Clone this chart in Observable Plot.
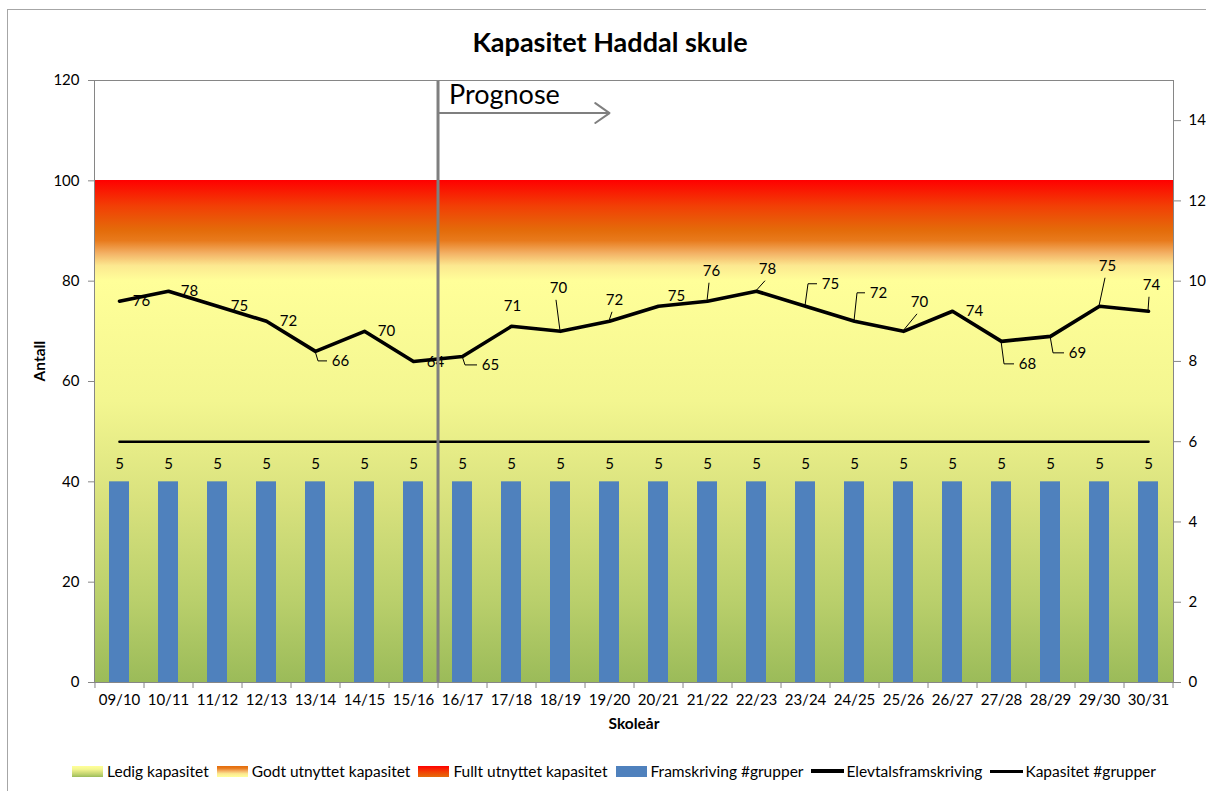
<!DOCTYPE html>
<html>
<head>
<meta charset="utf-8">
<script src="https://cdn.jsdelivr.net/npm/d3@7"></script>
<script src="https://cdn.jsdelivr.net/npm/@observablehq/plot@0.6"></script>
<style>
  html, body { margin: 0; padding: 0; background: #fff; }
  body { width: 1206px; height: 791px; position: relative; overflow: hidden; font-family: Lato, "Open Sans", sans-serif; }
  #border { position: absolute; left: 7px; top: 9px; width: 1300px; height: 900px; border-top: 1px solid #a6a6a6; border-left: 1px solid #a6a6a6; }
  #title { position: absolute; left: 0; top: 23px; width: 1220px; text-align: center; font-size: 27px; font-weight: bold; line-height: 38px; color: #000; }
  #chart { position: absolute; left: 0; top: 60px; }
  #legend { position: absolute; left: 0; top: 762px; width: 1228px; display: flex; justify-content: center; align-items: center; font-size: 15.5px; color: #000; }
  .item { display: flex; align-items: center; margin: 0 4px; }
  .sw { width: 31px; height: 11px; margin-right: 4px; }
  .ln { width: 33px; background: #000; margin-right: 2px; }
</style>
</head>
<body>
<div id="border"></div>
<div id="title">Kapasitet Haddal skule</div>
<div id="chart"></div>
<div id="legend"></div>
<script>
// ---------- data ----------
const years = ["09/10","10/11","11/12","12/13","13/14","14/15","15/16","16/17","17/18","18/19","19/20","20/21","21/22","22/23","23/24","24/25","25/26","26/27","27/28","28/29","29/30","30/31"];
const elevtal = [76,78,75,72,66,70,64,65,71,70,72,75,76,78,75,72,70,74,68,69,75,74];
const grupper = [5,5,5,5,5,5,5,5,5,5,5,5,5,5,5,5,5,5,5,5,5,5];
const kapasitetGrupper = [6,6,6,6,6,6,6,6,6,6,6,6,6,6,6,6,6,6,6,6,6,6];
const zoneNames = ["Ledig kapasitet","Godt utnyttet kapasitet","Fullt utnyttet kapasitet"];
const zoneLow = [0, 80, 90];
const zoneHigh = [80, 90, 100];
const leftTicks = [0,20,40,60,80,100,120];
const rightTicks = [0,2,4,6,8,10,12,14];
const leftMax = 120, rightMax = 15;
const lastActual = "15/16";
const arrowEnd = "19/20";
const prognoseLevel = 113.5;
const prognoseText = "Prognose";

// ---------- style / layout ----------
const zoneIds = ["gLedig","gGodt","gFullt"];
const zoneStops = [
  [[0,"#FFFF99"],[0.3,"#F3F690"],[0.55,"#D8E17D"],[0.8,"#B9CF6B"],[1,"#9BBB59"]],
  [[0,"#E46C0A"],[0.2,"#E87A1C"],[0.45,"#F3B064"],[0.7,"#FCE890"],[1,"#FFFF99"]],
  [[0,"#FF0000"],[0.5,"#F23E05"],[1,"#E46C0A"]]
];
// per-label nudges in px: [dx, dy, leader]
const labelLayout = [
  [22,0,null],[21,0,null],[22,0,null],[22,0,null],[25,10,"side"],[22,0,null],[22,1,null],
  [28,9,"side"],[1,-20,null],[-2,-43,"under"],[5,-21,"under"],[18,-10,null],[4,-30,"under"],
  [11,-22,"under"],[25,-22,"side"],[24,-28,"side"],[16,-29,"under"],[22,0,null],[26,23,"side"],
  [27,17,"side"],[8,-40,"under"],[3,-26,"under"]
];

const W = 1206, H = 682, mL = 94, mR = 33, mT = 20, mB = 60;
const step = (W - mL - mR) / years.length;
const ratio = leftMax / rightMax;
const axisGray = "#868686";

const rows = years.map((year, i) => ({
  year, elev: elevtal[i], grp: grupper[i] * ratio, grpLabel: String(grupper[i]), kap: kapasitetGrupper[i] * ratio
}));
const zones = zoneNames.map((name, k) => ({name, low: zoneLow[k], high: zoneHigh[k], id: zoneIds[k]}));

function gradientDefs() {
  const ns = "http://www.w3.org/2000/svg";
  const defs = document.createElementNS(ns, "defs");
  zoneIds.forEach((id, k) => {
    const g = document.createElementNS(ns, "linearGradient");
    g.setAttribute("id", id);
    g.setAttribute("x1", "0"); g.setAttribute("y1", "0");
    g.setAttribute("x2", "0"); g.setAttribute("y2", "1");
    zoneStops[k].forEach(([o, c]) => {
      const s = document.createElementNS(ns, "stop");
      s.setAttribute("offset", o);
      s.setAttribute("stop-color", c);
      g.appendChild(s);
    });
    defs.appendChild(g);
  });
  return defs;
}

function leaders(index, scales) {
  const g = d3.create("svg:g").attr("fill", "none").attr("stroke", "#000").attr("stroke-width", 1);
  const bw = scales.x.bandwidth ? scales.x.bandwidth() : 0;
  rows.forEach((r, i) => {
    const [dx, dy, kind] = labelLayout[i];
    if (!kind) return;
    const px = scales.x(r.year) + bw / 2, py = scales.y(r.elev);
    const lx = px + dx, ly = py + dy;
    let pts;
    if (kind === "side") pts = [[px, py], [px + 3, ly], [lx - 13, ly]];
    else pts = [[px, py], [lx - 2, ly + 12]];
    g.append("path").attr("d", d3.line()(pts));
  });
  return g.node();
}

const chart = Plot.plot({
  width: W, height: H,
  marginLeft: mL, marginRight: mR, marginTop: mT, marginBottom: mB,
  style: {fontFamily: "Lato, 'Open Sans', sans-serif", fontSize: "15px", background: "transparent", color: "#000", overflow: "visible"},
  x: {type: "band", domain: years, paddingInner: 0.59, paddingOuter: 0.295, label: null},
  y: {domain: [0, leftMax], label: null},
  marks: [
    gradientDefs,
    ...zones.map(z => Plot.rect([z], {y1: "low", y2: "high", fill: `url(#${z.id})`, shapeRendering: "crispEdges"})),
    Plot.barY(rows, {x: "year", y: "grp", fill: "#4F81BD"}),
    Plot.text(rows, {x: "year", y: "grp", text: "grpLabel", dy: -18, fontSize: 15, fill: "#000"}),
    Plot.lineY(rows, {x: "year", y: "kap", stroke: "#000", strokeWidth: 2.6}),
    Plot.lineY(rows, {x: "year", y: "elev", stroke: "#000", strokeWidth: 3.6, strokeLinejoin: "round"}),
    leaders,
    ...rows.map((r, i) => Plot.text([r], {x: "year", y: "elev", text: d => String(d.elev), dx: labelLayout[i][0], dy: labelLayout[i][1], fontSize: 15, fill: "#000"})),
    Plot.ruleX([lastActual], {dx: step / 2, stroke: "#7f7f7f", strokeWidth: 3}),
    Plot.arrow([{a: lastActual, b: arrowEnd, v: prognoseLevel}], {x1: "a", x2: "b", y1: "v", y2: "v", insetStart: step / 2, stroke: "#7f7f7f", strokeWidth: 2, headLength: 13, headAngle: 70}),
    Plot.text([{a: lastActual, v: prognoseLevel}], {x: "a", y: "v", text: () => prognoseText, dx: step / 2 + 11, dy: -18, textAnchor: "start", fontSize: 27, fill: "#000"}),
    Plot.frame({stroke: axisGray}),
    Plot.ruleX(years, {dx: step / 2, y1: () => 0, y2: () => 0, insetBottom: -6, stroke: axisGray}),
    Plot.ruleX([years[0]], {dx: -step / 2, y1: () => 0, y2: () => 0, insetBottom: -6, stroke: axisGray}),
    Plot.axisX({tickSize: 0, tickPadding: 12, fontSize: 15, fill: "#000", label: null}),
    Plot.axisY({anchor: "left", ticks: leftTicks, tickSize: 6, tickPadding: 9, stroke: axisGray, fill: "#000", fontSize: 15, label: null}),
    Plot.axisY({anchor: "right", ticks: rightTicks.map(t => t * ratio), tickFormat: d => String(d / ratio), tickSize: 7, tickPadding: 8, stroke: axisGray, fill: "#000", fontSize: 15, label: null}),
    Plot.text([0], {frameAnchor: "left", text: () => "Antall", rotate: -90, dx: -54, fontWeight: "bold", fontSize: 15.5, fill: "#000"}),
    Plot.text([0], {frameAnchor: "bottom", text: () => "Skoleår", dy: 46, fontWeight: "bold", fontSize: 15.5, fill: "#000"})
  ]
});
document.getElementById("chart").appendChild(chart);

// ---------- legend ----------
const legendItems = [
  {label: zoneNames[0], swatch: `linear-gradient(to bottom, ${zoneStops[0].map(([o,c]) => `${c} ${o*100}%`).join(", ")})`},
  {label: zoneNames[1], swatch: `linear-gradient(to bottom, ${zoneStops[1].map(([o,c]) => `${c} ${o*100}%`).join(", ")})`},
  {label: zoneNames[2], swatch: `linear-gradient(to bottom, ${zoneStops[2].map(([o,c]) => `${c} ${o*100}%`).join(", ")})`},
  {label: "Framskriving #grupper", swatch: "#4F81BD"},
  {label: "Elevtalsframskriving", line: 4},
  {label: "Kapasitet #grupper", line: 3}
];
const legend = document.getElementById("legend");
legendItems.forEach(it => {
  const d = document.createElement("div");
  d.className = "item";
  const s = document.createElement("div");
  if (it.line) { s.className = "ln"; s.style.height = it.line + "px"; }
  else { s.className = "sw"; s.style.background = it.swatch; }
  const t = document.createElement("span");
  t.textContent = it.label;
  d.appendChild(s); d.appendChild(t);
  legend.appendChild(d);
});
</script>
</body>
</html>
